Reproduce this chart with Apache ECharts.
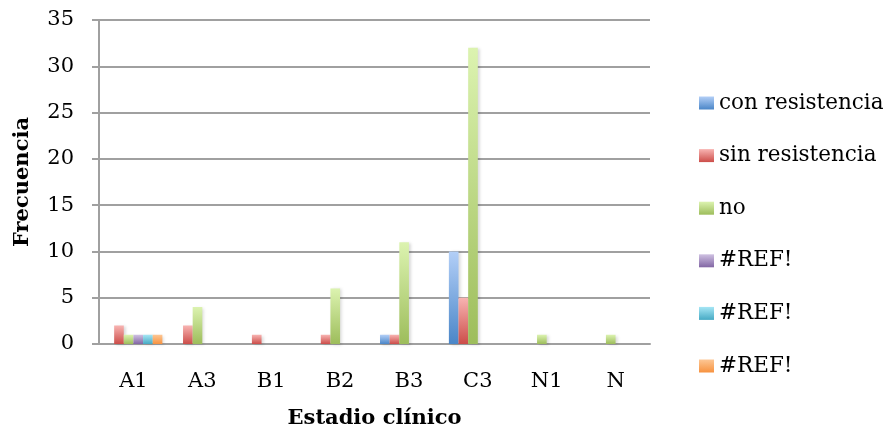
<!DOCTYPE html>
<html>
<head>
<meta charset="utf-8">
<script src="https://cdn.jsdelivr.net/npm/echarts@6/dist/echarts.min.js"></script>
<style>
html,body{margin:0;padding:0;background:#fff;}
#c{width:894px;height:434px;}
</style>
</head>
<body>
<div id="c"></div>
<script>
const categories = ['A1','A3','B1','B2','B3','C3','N1','N'];
const conResistencia = [0,0,0,0,1,10,0,0];
const sinResistencia = [2,2,1,1,1,5,0,0];
const noValues = [1,4,0,6,11,32,1,1];
const ref1 = [1,0,0,0,0,0,0,0];
const ref2 = [1,0,0,0,0,0,0,0];
const ref3 = [1,0,0,0,0,0,0,0];
// zero-width spaces keep the three identical '#REF!' legend entries distinct
const seriesNames = ['con resistencia','sin resistencia','no','#REF!','#REF!\u200b','#REF!\u200b\u200b'];
const yTicks = [0,5,10,15,20,25,30,35];

const FONT = 'DejaVu Serif';
const gradients = [
  ['#b3cff7','#4a86c8'],
  ['#f8b4b2','#cc4d49'],
  ['#dcf3b0','#9dbd5b'],
  ['#cfc1e2','#8266a4'],
  ['#a6e6f5','#46aac4'],
  ['#fdc795','#f7923f']
];
function grad(c){
  return {type:'linear',x:0,y:0,x2:0,y2:1,colorStops:[{offset:0,color:c[0]},{offset:1,color:c[1]}]};
}
const allData = [conResistencia,sinResistencia,noValues,ref1,ref2,ref3];
const series = allData.map((d,i)=>({
  name: seriesNames[i],
  type:'bar',
  data: d.map(v=> v===0 ? '-' : v),
  barGap:'0%',
  barCategoryGap:'16%',
  itemStyle:{color:grad(gradients[i]), shadowColor:'rgba(0,0,0,0.15)', shadowBlur:3, shadowOffsetX:2, shadowOffsetY:1},
  emphasis:{disabled:true}
}));

const chart = echarts.init(document.getElementById('c'));
chart.setOption({
  animation:false,
  textStyle:{fontFamily:FONT},
  grid:{left:99,right:244,top:20,bottom:89},
  legend:{
    orient:'vertical', left:699, top:90,
    padding:0,
    itemWidth:15, itemHeight:13, itemGap:26.6,
    icon:'rect',
    formatter: n => n.replace(/\u200b/g,''),
    textStyle:{fontFamily:FONT,fontSize:21.5,color:'#000',lineHeight:26},
    data: seriesNames.map(n=>({name:n})),
    selectedMode:false
  },
  xAxis:{
    type:'category',
    data:categories,
    axisLine:{show:true,lineStyle:{color:'#a0a0a0',width:2}},
    axisTick:{show:false},
    axisLabel:{fontFamily:FONT,fontSize:21,color:'#000',margin:27},
    name:'Estadio clínico',
    nameLocation:'middle',
    nameGap:64,
    nameTextStyle:{fontFamily:FONT,fontSize:21,fontWeight:'bold',color:'#000'}
  },
  yAxis:{
    type:'value',
    min:0,max:35,interval:5,
    axisLine:{show:true,lineStyle:{color:'#a0a0a0',width:2}},
    axisTick:{show:true,length:7,lineStyle:{color:'#a0a0a0',width:2}},
    splitLine:{show:true,lineStyle:{color:'#a0a0a0',width:2}},
    axisLabel:{fontFamily:FONT,fontSize:21,color:'#000',margin:25,padding:[4,0,0,0],
      formatter:v=> yTicks.includes(v) ? String(v) : ''},
    name:'Frecuencia',
    nameLocation:'middle',
    nameRotate:90,
    nameGap:66,
    nameTextStyle:{fontFamily:FONT,fontSize:21,fontWeight:'bold',color:'#000'}
  },
  series:series
});
</script>
</body>
</html>
